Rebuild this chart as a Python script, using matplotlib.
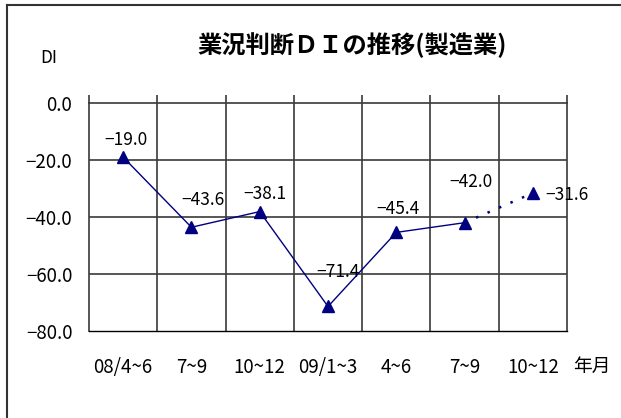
import matplotlib
matplotlib.use("Agg")
import matplotlib.pyplot as plt
from matplotlib.lines import Line2D

plt.rcParams['font.family'] = ['Noto Sans CJK JP', 'DejaVu Sans']
plt.rcParams['axes.unicode_minus'] = True

# Business conditions DI (manufacturing), quarterly
periods = ["08/4~6", "7~9", "10~12", "09/1~3", "4~6", "7~9", "10~12"]
di_values = [-19.0, -43.6, -38.1, -71.4, -45.4, -42.0, -31.6]
n_actual = 6  # last point is a forecast, joined with a dotted segment
y_ticks = [0.0, -20.0, -40.0, -60.0, -80.0]

# label centre offsets (points) relative to each marker
label_offsets = [(2, 12), (8, 19.5), (3.6, 13), (7, 24.5), (1.5, 16.5), (4.3, 29), (24.5, -1.5)]

W, H = 621, 418
fig = plt.figure(figsize=(W / 100, H / 100), dpi=100)
ax = fig.add_axes([89 / W, (H - 331) / H, (567 - 89) / W, (331 - 103) / H])

navy = "#000080"
grid_c = "#3a3a3a"

x = list(range(len(periods)))
ax.plot(x[:n_actual], di_values[:n_actual], color=navy, lw=1.0,
        marker="^", ms=9, mfc=navy, mec=navy, zorder=4)
ax.plot(x[n_actual - 1:], di_values[n_actual - 1:], color=navy, lw=1.8,
        ls=(0, (1, 4)), zorder=3)
ax.plot(x[n_actual:], di_values[n_actual:], ls="none",
        marker="^", ms=9, mfc=navy, mec=navy, zorder=4)

for xi, v, off in zip(x, di_values, label_offsets):
    ax.annotate(f"\u2212{abs(v):.1f}", (xi, v), xytext=off,
                textcoords="offset points", ha="center", va="center",
                fontsize=12.5, color="black")

ax.set_xlim(-0.5, len(periods) - 0.5)
ax.set_ylim(-80, 0)

# horizontal grid
ax.set_yticks(y_ticks)
ax.set_yticklabels([f"{t:.1f}".replace("-", "\u2212") for t in y_ticks], fontsize=13.5)
ax.tick_params(axis="y", length=0, pad=12)
for t in y_ticks[1:-1]:
    ax.axhline(t, color=grid_c, lw=1.2, zorder=1)

# vertical grid at category boundaries, with tick marks poking above the top
bounds = [i - 0.5 for i in range(len(periods) + 1)]
for b in bounds[1:-1]:
    ax.axvline(b, color=grid_c, lw=1.2, zorder=1)
ax.set_xticks(bounds, minor=True)
ax.tick_params(axis="x", which="minor", top=True, bottom=False, direction="out",
               length=6, width=1.2, color=grid_c)
ax.set_xticks(x)
ax.set_xticklabels(periods, fontsize=13.5)
ax.tick_params(axis="x", which="major", length=0, pad=19)

for side in ["top", "left", "right"]:
    ax.spines[side].set_color(grid_c)
    ax.spines[side].set_linewidth(1.2)
ax.spines["bottom"].set_color("black")
ax.spines["bottom"].set_linewidth(1.0)

# text
fig.text(352 / W, 1 - 45 / H, "業況判断ＤＩの推移(製造業)", ha="center", va="center",
         fontsize=17.5, fontweight="bold")
fig.text(49 / W, 1 - 58 / H, "DI", ha="center", va="center", fontsize=12.5)
fig.text(592 / W, 1 - 366 / H, "年月", ha="center", va="center", fontsize=13.5)

# outer frame (left and top edges)
fig.add_artist(Line2D([7 / W, 7 / W], [0, 1 - 5 / H], color="#333333", lw=1.5,
                      transform=fig.transFigure))
fig.add_artist(Line2D([7 / W, 1], [1 - 5 / H, 1 - 5 / H], color="#333333", lw=1.5,
                      transform=fig.transFigure))

fig.savefig("out.png", dpi=100)
